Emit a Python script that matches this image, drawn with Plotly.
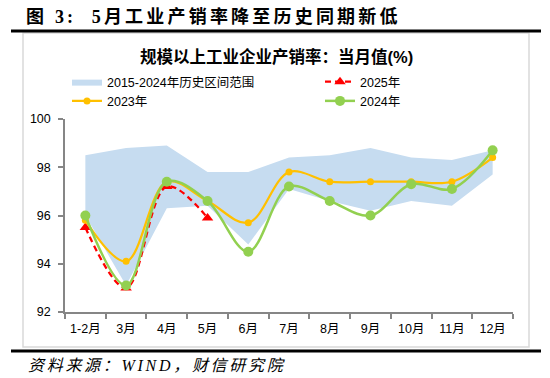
import plotly.graph_objects as go

# ---------------- data ----------------
months = ["1-2月", "3月", "4月", "5月", "6月", "7月", "8月", "9月", "10月", "11月", "12月"]
band_max = [98.5, 98.8, 98.9, 97.8, 97.8, 98.4, 98.5, 98.8, 98.4, 98.3, 98.7]
band_min = [96.0, 93.1, 96.3, 96.4, 94.8, 97.1, 96.6, 96.2, 96.6, 96.4, 97.7]
y2023 = [95.8, 94.1, 97.4, 96.6, 95.7, 97.8, 97.4, 97.4, 97.4, 97.4, 98.4]
y2024 = [96.0, 93.1, 97.4, 96.6, 94.5, 97.2, 96.6, 96.0, 97.3, 97.1, 98.7]
months2025 = months[:4]
y2025 = [95.5, 93.0, 97.2, 95.9]
y_ticks = [92, 94, 96, 98, 100]

# ---------------- layout helpers (pixel -> paper) ----------------
W, H = 550, 378
L, R, T, B = 65, 513, 119, 312


def fx(px):
    return (px - L) / (R - L)


def fy(py):
    return (B - py) / (B - T)


SANS = "Liberation Sans, Noto Sans CJK SC, sans-serif"
SERIF = "Liberation Serif, Noto Sans CJK SC, serif"

fig = go.Figure()

# band (history range)
fig.add_trace(go.Scatter(
    x=months, y=band_max, mode="lines", line=dict(width=0, color="#C6DCF0"),
    showlegend=False, hoverinfo="skip", legend="legend",
))
fig.add_trace(go.Scatter(
    x=months, y=band_min, mode="lines", line=dict(width=0, color="#C6DCF0"),
    fill="tonexty", fillcolor="#C6DCF0", name="2015-2024年历史区间范围",
    legend="legend", legendgroup="a",
))
# 2025
fig.add_trace(go.Scatter(
    x=months2025, y=y2025, mode="lines+markers", name="2025年",
    line=dict(color="#FF0000", width=2.25, dash="6px,4px", shape="spline", smoothing=1),
    marker=dict(symbol="triangle-up", size=10, color="#FF0000"),
    legend="legend2", legendgroup="c",
))
# 2023
fig.add_trace(go.Scatter(
    x=months, y=y2023, mode="lines+markers", name="2023年",
    line=dict(color="#FFC000", width=2.25, shape="spline", smoothing=1),
    marker=dict(symbol="circle", size=7, color="#FFC000"),
    legend="legend", legendgroup="b",
))
# 2024
fig.add_trace(go.Scatter(
    x=months, y=y2024, mode="lines+markers", name="2024年",
    line=dict(color="#92D050", width=2.5, shape="spline", smoothing=1),
    marker=dict(symbol="circle", size=10, color="#92D050"),
    legend="legend2", legendgroup="d",
))

legend_common = dict(
    orientation="v", xanchor="left", yanchor="top",
    font=dict(family=SANS, size=12.5, color="#000"),
    bgcolor="rgba(0,0,0,0)", borderwidth=0, tracegroupgap=8,
    traceorder="normal", itemwidth=30,
)

fig.update_layout(
    width=W, height=H, autosize=False,
    margin=dict(l=L, r=W - R, t=T, b=H - B, pad=0),
    paper_bgcolor="white", plot_bgcolor="white",
    showlegend=True,
    legend=dict(x=fx(67), y=fy(67), **legend_common),
    legend2=dict(x=fx(320), y=fy(67), **legend_common),
    xaxis=dict(
        type="category", categoryorder="array", categoryarray=months,
        range=[-0.5, len(months) - 0.5],
        showline=True, linecolor="#868686", linewidth=1.5,
        ticks="outside", tickson="boundaries", ticklen=5, tickwidth=1.5, tickcolor="#868686",
        showgrid=False, zeroline=False,
        tickfont=dict(family=SANS, size=12.5, color="#000"),
        ticklabelstandoff=4,
    ),
    yaxis=dict(
        range=[92, 100], tickmode="array", tickvals=y_ticks,
        ticktext=[str(v) for v in y_ticks],
        showline=True, linecolor="#868686", linewidth=1.5,
        ticks="outside", ticklen=5, tickwidth=1.5, tickcolor="#868686",
        showgrid=False, zeroline=False,
        tickfont=dict(family=SANS, size=12.5, color="#000"),
        ticklabelstandoff=5,
    ),
    shapes=[
        dict(type="rect", xref="paper", yref="paper",
             x0=fx(23), x1=fx(529), y0=fy(33), y1=fy(347),
             line=dict(color="#D9D9D9", width=1.5), fillcolor="rgba(0,0,0,0)", layer="below"),
        dict(type="line", xref="paper", yref="paper",
             x0=fx(11), x1=fx(541), y0=fy(31), y1=fy(31),
             line=dict(color="#000", width=3)),
        dict(type="line", xref="paper", yref="paper",
             x0=fx(11), x1=fx(541), y0=fy(351), y1=fy(351),
             line=dict(color="#000", width=3)),
    ],
    annotations=[
        dict(xref="paper", yref="paper", x=fx(24), y=fy(17), xanchor="left", yanchor="middle",
             showarrow=False,
             text='<b><span style="letter-spacing:3.2px">图 3:  5月工业产销率降至历史同期新低</span></b>',
             font=dict(family=SERIF, size=18, color="#000")),
        dict(xref="paper", yref="paper", x=fx(276), y=fy(57), xanchor="center", yanchor="middle",
             showarrow=False, text="<b>规模以上工业企业产销率：当月值(%)</b>",
             font=dict(family=SANS, size=16.5, color="#000")),
        dict(xref="paper", yref="paper", x=fx(26), y=fy(365), xanchor="left", yanchor="middle",
             showarrow=False,
             text='<i><span style="letter-spacing:2.7px">资料来源：WIND，财信研究院</span></i>',
             font=dict(family=SERIF, size=16, color="#000")),
    ],
)

fig.write_html("out.html", config={"displayModeBar": False},
               post_script="document.body.style.margin='0';")
